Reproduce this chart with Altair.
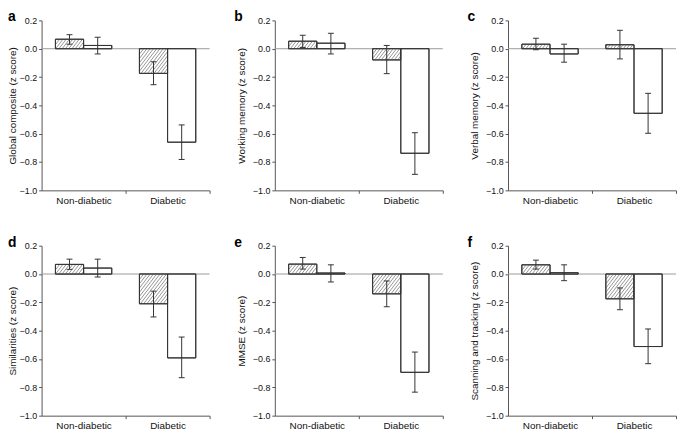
import altair as alt
import pandas as pd

# ---------------- data ----------------
panel_letters = ["a", "b", "c", "d", "e", "f"]
y_titles = [
    "Global composite (z score)",
    "Working memory (z score)",
    "Verbal memory (z score)",
    "Similarities (z score)",
    "MMSE (z score)",
    "Scanning and tracking (z score)",
]
categories = ["Non-diabetic", "Diabetic"]
y_ticks = [-1.0, -0.8, -0.6, -0.4, -0.2, 0.0, 0.2]

# hatched bars (first bar of each pair)
hatched_mean = [[0.067, -0.174], [0.053, -0.079], [0.032, 0.028],
                [0.068, -0.210], [0.070, -0.140], [0.065, -0.175]]
hatched_lo = [[0.032, -0.254], [0.009, -0.176], [-0.007, -0.072],
              [0.033, -0.303], [0.035, -0.231], [0.035, -0.252]]
hatched_hi = [[0.099, -0.092], [0.095, 0.023], [0.074, 0.130],
              [0.105, -0.121], [0.117, -0.049], [0.098, -0.098]]

# open bars (second bar of each pair)
open_mean = [[0.023, -0.660], [0.039, -0.738], [-0.037, -0.456],
             [0.042, -0.592], [0.007, -0.694], [0.009, -0.512]]
open_lo = [[-0.037, -0.782], [-0.037, -0.887], [-0.095, -0.597],
           [-0.021, -0.732], [-0.056, -0.834], [-0.047, -0.633]]
open_hi = [[0.081, -0.538], [0.109, -0.593], [0.032, -0.315],
           [0.105, -0.445], [0.065, -0.551], [0.065, -0.388]]

# ---------------- layout constants ----------------
W, H = 170, 172
Y_MIN, Y_MAX = -1.0, 0.2
PX_X = W / 2.0
PX_Y = H / (Y_MAX - Y_MIN)
BAR_W = 28.5 / PX_X
CAP = 3.0 / PX_X
FONT = "Liberation Sans"
LINE = "#333333"


def panel_frame(i):
    rows = []
    for j, cat in enumerate(categories):
        rows.append(dict(category=cat, idx=j, group="hatched",
                         mean=hatched_mean[i][j], lo=hatched_lo[i][j], hi=hatched_hi[i][j]))
        rows.append(dict(category=cat, idx=j, group="open",
                         mean=open_mean[i][j], lo=open_lo[i][j], hi=open_hi[i][j]))
    return pd.DataFrame(rows)


def hatch_frame(i, spacing=3.3, slope=1.3):
    segs = []
    for j in range(len(categories)):
        v = hatched_mean[i][j]
        lo_v, hi_v = min(0.0, v), max(0.0, v)
        x0 = j + 0.5 - BAR_W
        wpx = BAR_W * PX_X
        hpx = (hi_v - lo_v) * PX_Y
        c = -hpx / slope + 1.0
        while c < wpx:
            t0 = max(0.0, -slope * c)
            t1 = min(hpx, slope * (wpx - c))
            if t1 > t0:
                segs.append(dict(x=x0 + (c + t0 / slope) / PX_X, y=lo_v + t0 / PX_Y,
                                 x2=x0 + (c + t1 / slope) / PX_X, y2=lo_v + t1 / PX_Y))
            c += spacing
    return pd.DataFrame(segs)


x_scale = alt.Scale(domain=[0, 2], nice=False, zero=False)
y_scale = alt.Scale(domain=[Y_MIN, Y_MAX], nice=False, zero=False)


def make_panel(i):
    first_col = i % 3 == 0
    x_axis = alt.Axis(values=[1, 2], title=None, grid=False,
                      labelExpr="datum.value == 1 ? 'Non-diabetic' : 'Diabetic'",
                      labelOffset=-PX_X / 2, labelFlush=False, labelOverlap=False,
                      labelFontSize=10, labelPadding=2, tickSize=3,
                      domainColor="#555555", tickColor="#555555", labelColor="#111111")
    y_axis = alt.Axis(values=y_ticks, format=".1f", title=y_titles[i], grid=False,
                      labelFontSize=9, labelPadding=2, tickSize=3,
                      domainColor="#555555", tickColor="#555555", labelColor="#111111",
                      titleX=-29 if first_col else -34, titleY=H / 2, titleAngle=270,
                      titleAlign="center", titleBaseline="middle",
                      titleFontSize=10, titleFontWeight="normal", titleColor="#111111")

    df = panel_frame(i)
    base = alt.Chart(df).transform_calculate(
        x0=f"datum.idx + 0.5 - (datum.group == 'hatched' ? {BAR_W} : 0)",
        zero="0",
    ).transform_calculate(
        x1=f"datum.x0 + {BAR_W}",
        xm=f"datum.x0 + {BAR_W / 2}",
    ).transform_calculate(
        cl=f"datum.xm - {CAP}",
        cr=f"datum.xm + {CAP}",
    )

    zero_line = alt.Chart(pd.DataFrame({"y": [0.0]})).mark_rule(
        color="#9a9a9a", strokeWidth=1
    ).encode(y=alt.Y("y:Q", scale=y_scale, axis=y_axis))

    bars = base.mark_rect(fill="white", stroke=LINE, strokeWidth=1).encode(
        x=alt.X("x0:Q", scale=x_scale, axis=x_axis),
        x2="x1:Q",
        y=alt.Y("mean:Q", scale=y_scale, axis=y_axis),
        y2="zero:Q",
    )

    hatch = alt.Chart(hatch_frame(i)).mark_rule(color="#7a7a7a", strokeWidth=0.8).encode(
        x=alt.X("x:Q", scale=x_scale, axis=x_axis),
        x2="x2:Q",
        y=alt.Y("y:Q", scale=y_scale, axis=y_axis),
        y2="y2:Q",
    )

    outline = base.mark_rect(fill=None, stroke=LINE, strokeWidth=1).encode(
        x=alt.X("x0:Q", scale=x_scale, axis=x_axis),
        x2="x1:Q",
        y=alt.Y("mean:Q", scale=y_scale, axis=y_axis),
        y2="zero:Q",
    )

    err = base.mark_rule(color=LINE, strokeWidth=1).encode(
        x=alt.X("xm:Q", scale=x_scale, axis=x_axis),
        y=alt.Y("lo:Q", scale=y_scale, axis=y_axis),
        y2="hi:Q",
    )
    cap_lo = base.mark_rule(color=LINE, strokeWidth=1).encode(
        x=alt.X("cl:Q", scale=x_scale, axis=x_axis), x2="cr:Q",
        y=alt.Y("lo:Q", scale=y_scale, axis=y_axis),
    )
    cap_hi = base.mark_rule(color=LINE, strokeWidth=1).encode(
        x=alt.X("cl:Q", scale=x_scale, axis=x_axis), x2="cr:Q",
        y=alt.Y("hi:Q", scale=y_scale, axis=y_axis),
    )

    letter = alt.Chart(pd.DataFrame({"t": [panel_letters[i]]})).mark_text(
        align="left", baseline="alphabetic", fontSize=14, fontWeight="bold",
        font=FONT, color="#000000",
    ).encode(x=alt.value(-34 if first_col else -41), y=alt.value(1), text="t:N")

    return alt.layer(zero_line, bars, hatch, outline, err, cap_lo, cap_hi, letter).properties(
        width=W, height=H
    )


panels = [make_panel(i) for i in range(6)]

chart = alt.concat(
    *panels, columns=3, spacing={"row": 56, "column": 66}, bounds="flush"
).properties(
    padding={"left": 0, "top": 0, "right": 0, "bottom": 0}
).configure(
    font=FONT
).configure_view(
    stroke=None
)

chart.save("out.html", embed_options={"renderer": "svg", "actions": False})
